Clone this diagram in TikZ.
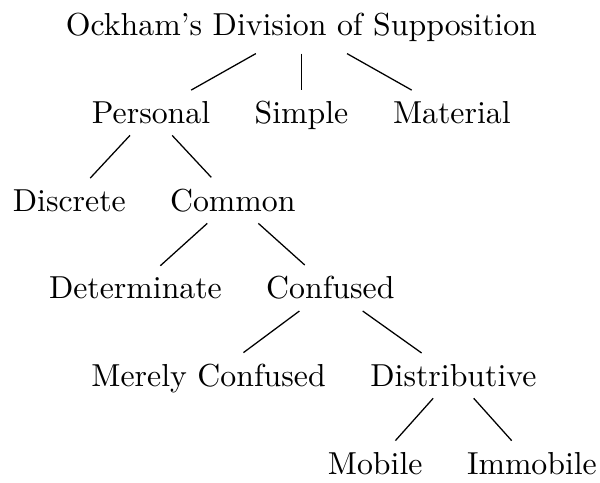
\documentclass[tikz,border=0pt]{standalone}
\usepackage{tikz}

\begin{document}
\begin{tikzpicture}[
        term/.style={anchor=base, inner xsep=2pt, inner ysep=3.4pt}
    ]
            \def\firstline{11.32pt}
            \def\levelsep{27.56pt}

            \useasboundingbox (0pt, 0pt) rectangle (188.7pt, -151.6pt);

            % level 0
            \node[term] (root) at (94.8pt, -\firstline) {Ockham's Division of Supposition};

            % level 1
            \node[term] (personal) at (47.5pt, -\firstline-1*\levelsep) {Personal};
            \node[term] (simple) at (94.8pt, -\firstline-1*\levelsep) {Simple};
            \node[term] (material) at (142.1pt, -\firstline-1*\levelsep) {Material};

            % level 2
            \node[term] (discrete) at (21.8pt, -\firstline-2*\levelsep) {Discrete};
            \node[term] (common) at (73.2pt, -\firstline-2*\levelsep) {Common};

            % level 3
            \node[term] (determinate) at (42.6pt, -\firstline-3*\levelsep) {Determinate};
            \node[term] (confused) at (103.9pt, -\firstline-3*\levelsep) {Confused};

            % level 4
            \node[term] (merely) at (65.6pt, -\firstline-4*\levelsep) {Merely Confused};
            \node[term] (distributive) at (142.6pt, -\firstline-4*\levelsep) {Distributive};

            % level 5
            \node[term] (mobile) at (118.0pt, -\firstline-5*\levelsep) {Mobile};
            \node[term] (immobile) at (167.3pt, -\firstline-5*\levelsep) {Immobile};

            % draw edges
            \foreach \from/\to in {root/personal, root/simple, root/material,
                                   personal/discrete, personal/common,
                                   common/determinate, common/confused,
                                   confused/merely, confused/distributive,
                                   distributive/mobile, distributive/immobile}
            {
                \draw (\from) -- (\to);
            }
        \end{tikzpicture}
\end{document}
